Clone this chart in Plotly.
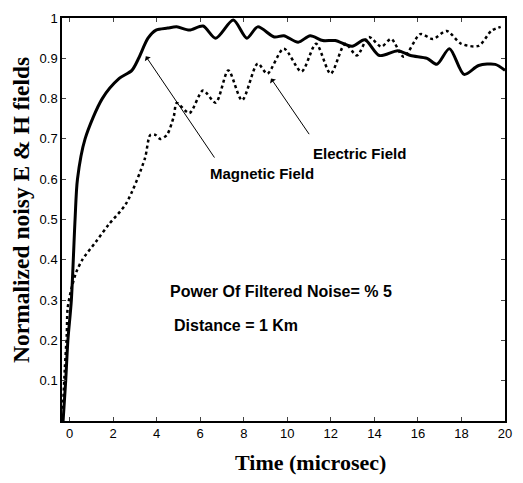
import plotly.graph_objects as go

# Magnetic field (solid)
mag_t = [-0.3, -0.18, -0.08, 0.08, 0.25, 0.36, 0.71, 1.5, 2.28, 2.86, 3.17, 3.6, 3.97, 4.5,
         4.92, 5.5, 6.13, 6.71, 7.52, 8.14, 8.64, 9.4, 9.84, 10.5, 11.05, 11.63, 12.2, 12.98,
         13.56, 14.23, 15.08, 15.66, 16.42, 16.87, 17.45, 18.12, 18.79, 19.55, 20.0]
mag_v = [0.0, 0.1, 0.2, 0.3, 0.5, 0.6, 0.7, 0.8, 0.85, 0.87, 0.9, 0.95, 0.97, 0.975,
         0.978, 0.97, 0.98, 0.95, 0.995, 0.95, 0.978, 0.953, 0.956, 0.94, 0.956, 0.944, 0.944, 0.93,
         0.946, 0.907, 0.919, 0.907, 0.9, 0.885, 0.924, 0.86, 0.882, 0.885, 0.87]

# Electric field (dotted)
ele_t = [-0.31, -0.22, -0.13, -0.09, 0.09, 0.31, 0.58, 1.21, 1.79, 2.6, 3.45, 3.71, 3.94, 4.16,
         4.47, 4.79, 4.92, 5.5, 6.13, 6.71, 7.29, 7.92, 8.64, 9.08, 9.84, 10.65, 11.32, 11.99,
         12.66, 13.2, 13.74, 14.32, 14.77, 15.35, 16.11, 16.69, 17.32, 17.99, 18.79, 19.37, 19.8]
ele_v = [0.03, 0.13, 0.216, 0.28, 0.33, 0.37, 0.40, 0.445, 0.487, 0.54, 0.65, 0.71, 0.71, 0.70,
         0.71, 0.757, 0.789, 0.764, 0.82, 0.79, 0.87, 0.796, 0.887, 0.862, 0.924, 0.867, 0.936, 0.862,
         0.936, 0.907, 0.953, 0.929, 0.948, 0.904, 0.96, 0.948, 0.968, 0.936, 0.931, 0.968, 0.978]

x_ticks = [0, 2, 4, 6, 8, 10, 12, 14, 16, 18, 20]
y_ticks = [0, 0.1, 0.2, 0.3, 0.4, 0.5, 0.6, 0.7, 0.8, 0.9, 1]
y_ticktext = ["", "0.1", "0.2", "0.3", "0.4", "0.5", "0.6", "0.7", "0.8", "0.9", "1"]

fig = go.Figure()
fig.add_trace(go.Scatter(x=mag_t, y=mag_v, mode="lines",
                         line=dict(color="black", width=3, shape="spline", smoothing=0.8),
                         name="Magnetic Field", showlegend=False))
fig.add_trace(go.Scatter(x=ele_t, y=ele_v, mode="lines",
                         line=dict(color="black", width=2.5, dash="dot", shape="spline", smoothing=0.8),
                         name="Electric Field", showlegend=False))

ann_font = dict(family="Liberation Sans", size=15, color="black")
fig.add_annotation(x=3.5, y=0.905, ax=6.7, ay=0.65, xref="x", yref="y", axref="x", ayref="y",
                   showarrow=True, arrowhead=1, arrowsize=1.2, arrowwidth=1, arrowcolor="black", text="")
fig.add_annotation(x=9.25, y=0.85, ax=11.05, ay=0.708, xref="x", yref="y", axref="x", ayref="y",
                   showarrow=True, arrowhead=1, arrowsize=1.2, arrowwidth=1, arrowcolor="black", text="")
fig.add_annotation(x=8.85, y=0.614, xref="x", yref="y", text="<b>Magnetic Field</b>",
                   showarrow=False, font=ann_font)
fig.add_annotation(x=13.3, y=0.663, xref="x", yref="y", text="<b>Electric Field</b>",
                   showarrow=False, font=ann_font)
fig.add_annotation(x=4.5, y=0.322, xref="x", yref="y", xanchor="left",
                   text="<b>Power Of Filtered Noise= % 5</b>", showarrow=False,
                   font=dict(family="Liberation Sans", size=16, color="black"))
fig.add_annotation(x=4.7, y=0.236, xref="x", yref="y", xanchor="left",
                   text="<b>Distance = 1 Km</b>", showarrow=False,
                   font=dict(family="Liberation Sans", size=16, color="black"))

# axis titles
fig.add_annotation(x=0.562, y=-0.103, xref="paper", yref="paper", xanchor="center", yanchor="middle",
                   text="<b>Time (microsec)</b>", showarrow=False,
                   font=dict(family="Liberation Serif", size=22, color="black"))
fig.add_annotation(x=-0.091, y=0.523, xref="paper", yref="paper", xanchor="center", yanchor="middle",
                   text="<b>Normalized noisy E &amp; H fields</b>", showarrow=False, textangle=-90,
                   font=dict(family="Liberation Serif", size=23.5, color="black"))

fig.update_layout(
    width=523, height=483,
    margin=dict(l=62, r=11, t=14, b=62),
    paper_bgcolor="white", plot_bgcolor="white",
    font=dict(family="Liberation Sans", size=13, color="black"),
)
fig.update_xaxes(range=[-0.35, 20], tickvals=x_ticks, ticks="inside", ticklen=4,
                 showline=True, linecolor="black", linewidth=1.5, mirror="ticks",
                 showgrid=False, zeroline=False)
fig.update_yaxes(range=[0, 1], tickvals=y_ticks, ticktext=y_ticktext, ticks="inside", ticklen=4,
                 showline=True, linecolor="black", linewidth=1.5, mirror="ticks",
                 showgrid=False, zeroline=False)

fig.write_html("out.html")
